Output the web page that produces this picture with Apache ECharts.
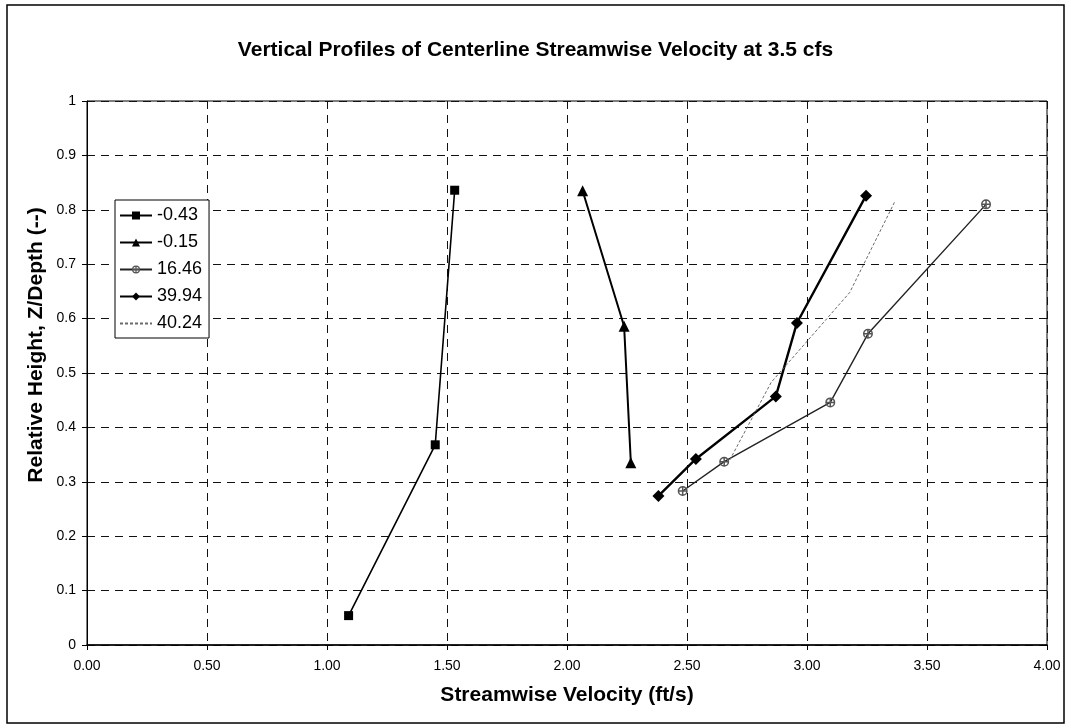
<!DOCTYPE html>
<html>
<head>
<meta charset="utf-8">
<script src="https://cdn.jsdelivr.net/npm/echarts@6/dist/echarts.min.js"></script>
<style>
  html, body { margin: 0; padding: 0; background: #fff; }
  #chart { width: 1071px; height: 728px; }
</style>
</head>
<body>
<div id="chart"></div>
<script>
// Centerline streamwise velocity profiles, one series per station
const seriesNames = ['-0.43', '-0.15', '16.46', '39.94', '40.24'];

const velNeg043 = [1.09, 1.451, 1.532];
const hgtNeg043 = [0.054, 0.368, 0.836];

const velNeg015 = [2.065, 2.238, 2.266];
const hgtNeg015 = [0.835, 0.586, 0.335];

const vel1646 = [2.482, 2.655, 3.097, 3.254, 3.746];
const hgt1646 = [0.283, 0.337, 0.446, 0.572, 0.810];

const vel3994 = [2.381, 2.537, 2.870, 2.958, 3.246];
const hgt3994 = [0.274, 0.342, 0.457, 0.592, 0.826];

const vel4024 = [2.678, 2.851, 3.178, 3.368];
const hgt4024 = [0.340, 0.483, 0.648, 0.817];

const xTickLabels = ['0.00', '0.50', '1.00', '1.50', '2.00', '2.50', '3.00', '3.50', '4.00'];
const yTickLabels = ['0', '0.1', '0.2', '0.3', '0.4', '0.5', '0.6', '0.7', '0.8', '0.9', '1'];

const chartTitle = 'Vertical Profiles of Centerline Streamwise Velocity at 3.5 cfs';
const xTitle = 'Streamwise Velocity (ft/s)';
const yTitle = 'Relative Height, Z/Depth (--)';

const pairs = (xs, ys) => xs.map((x, i) => [x, ys[i]]);

const FONT = "'Liberation Sans', Arial, sans-serif";

// circle with a cross inside (ring + plus, filled)
const crossCircle = 'path://M0,-10A10,10 0 1,1 0,10A10,10 0 1,1 0,-10Z' +
  'M0,-7A7,7 0 1,0 0,7A7,7 0 1,0 0,-7Z' +
  'M-7,-1.5H7V1.5H-7Z M-1.5,-7H1.5V7H-1.5Z';

const chart = echarts.init(document.getElementById('chart'), null, { renderer: 'canvas' });

const gridLine = { show: true, lineStyle: { color: '#111', width: 1, type: [8, 6] } };

chart.setOption({
  backgroundColor: '#fff',
  animation: false,
  title: {
    text: chartTitle,
    left: 'center',
    top: 35,
    textStyle: { fontFamily: FONT, fontSize: 21, fontWeight: 'bold', color: '#000' }
  },
  graphic: [
    {
      type: 'rect',
      shape: { x: 7, y: 5, width: 1057, height: 718 },
      style: { fill: 'none', stroke: '#000', lineWidth: 1.5 },
      silent: true
    },
    {
      type: 'text',
      x: 36, y: 345,
      rotation: Math.PI / 2,
      style: {
        text: yTitle,
        font: "bold 21px 'Liberation Sans', Arial, sans-serif",
        fill: '#000',
        align: 'center',
        verticalAlign: 'middle'
      },
      silent: true
    }
  ],
  legend: {
    orient: 'vertical',
    left: 115,
    top: 200,
    backgroundColor: '#fff',
    borderColor: '#000',
    borderWidth: 1,
    padding: [5, 7, 4, 4],
    itemGap: 6,
    itemWidth: 32,
    itemHeight: 10,
    textStyle: { fontFamily: FONT, fontSize: 18, color: '#000', lineHeight: 21 },
    data: [
      seriesNames[0], seriesNames[1], seriesNames[2], seriesNames[3],
      { name: seriesNames[4], itemStyle: { opacity: 0 } }
    ]
  },
  grid: {
    left: 87, right: 24, top: 101, bottom: 83,
    show: true, borderColor: '#000', borderWidth: 1, backgroundColor: 'transparent'
  },
  xAxis: {
    type: 'value',
    min: 0, max: 4, interval: 0.5,
    name: xTitle,
    nameLocation: 'middle',
    nameGap: 40,
    nameTextStyle: { fontFamily: FONT, fontSize: 21, fontWeight: 'bold', color: '#000' },
    axisLine: { show: true, lineStyle: { color: '#000', width: 1.5 } },
    axisTick: { show: true, length: 5, lineStyle: { color: '#000' } },
    axisLabel: {
      fontFamily: FONT, fontSize: 14, color: '#000', margin: 14,
      formatter: v => xTickLabels[Math.round(v / 0.5)]
    },
    splitLine: gridLine
  },
  yAxis: {
    type: 'value',
    min: 0, max: 1, interval: 0.1,
    axisLine: { show: true, lineStyle: { color: '#000', width: 1 } },
    axisTick: { show: true, length: 5, lineStyle: { color: '#000' } },
    axisLabel: {
      fontFamily: FONT, fontSize: 14, color: '#000', margin: 11,
      formatter: v => yTickLabels[Math.round(v / 0.1)]
    },
    splitLine: gridLine
  },
  series: [
    {
      name: seriesNames[0], type: 'line',
      data: pairs(velNeg043, hgtNeg043),
      symbol: 'rect', symbolSize: 9,
      itemStyle: { color: '#000' },
      lineStyle: { color: '#000', width: 1.6 }
    },
    {
      name: seriesNames[1], type: 'line',
      data: pairs(velNeg015, hgtNeg015),
      symbol: 'triangle', symbolSize: 11,
      itemStyle: { color: '#000' },
      lineStyle: { color: '#000', width: 2 }
    },
    {
      name: seriesNames[2], type: 'line',
      data: pairs(vel1646, hgt1646),
      symbol: crossCircle, symbolSize: 10,
      itemStyle: { color: '#555' },
      lineStyle: { color: '#222', width: 1.4 }
    },
    {
      name: seriesNames[3], type: 'line',
      data: pairs(vel3994, hgt3994),
      symbol: 'diamond', symbolSize: 12,
      itemStyle: { color: '#000' },
      lineStyle: { color: '#000', width: 2.4 }
    },
    {
      name: seriesNames[4], type: 'line',
      data: pairs(vel4024, hgt4024),
      symbol: 'none',
      itemStyle: { color: '#777' },
      lineStyle: { color: '#6a6a6a', width: 1, type: [3, 2] }
    }
  ]
});
</script>
</body>
</html>
